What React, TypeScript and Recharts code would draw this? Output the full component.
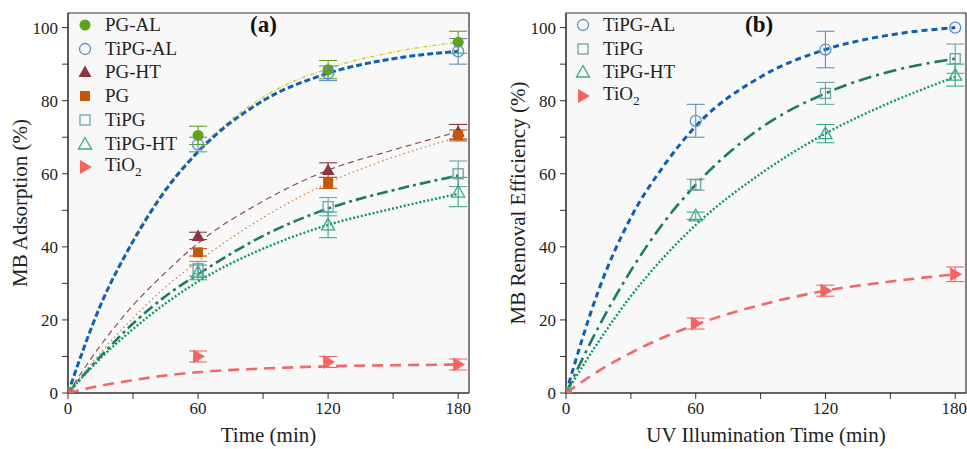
import React from "react";
import { ComposedChart, Line, Scatter, ErrorBar, XAxis, YAxis, ReferenceArea, Label } from "recharts";

const FONT = '"Liberation Serif", "Times New Roman", serif';

const times = [0, 60, 120, 180];
const fitTimes = [0, 15, 30, 45, 60, 90, 120, 150, 180];
const xTicks = [0, 30, 60, 90, 120, 150, 180];
const yTicks = [0, 10, 20, 30, 40, 50, 60, 70, 80, 90, 100];

// panel (a): adsorption, measured points / error / fitted curve
const aPgAl = [0, 70.5, 88.5, 96];
const aPgAlErr = [0, 2.5, 2.5, 3];
const aPgAlFit = [0, 24, 42, 56, 66.5, 81, 88.8, 93.3, 96];
const aTiPgAl = [0, 68, 87.5, 93.5];
const aTiPgAlErr = [0, 2, 2, 3.5];
const aTiPgAlFit = [0, 24, 41.5, 55.5, 66, 80, 87.5, 91.5, 93.5];
const aPgHt = [0, 43, 61, 71.5];
const aPgHtErr = [0, 1, 2, 2];
const aPgHtFit = [0, 13, 24, 33, 41, 52.5, 61, 66.5, 71.5];
const aPg = [0, 38.5, 57.5, 70.5];
const aPgErr = [0, 1, 1.5, 1.5];
const aPgFit = [0, 11, 20.5, 29, 36, 48, 57.5, 64.5, 70];
const aTiPg = [0, 34, 51, 60];
const aTiPgErr = [0, 2, 2.5, 3.5];
const aTiPgFit = [0, 10, 19, 26.5, 32.5, 43, 50.5, 55.5, 59.5];
const aTiPgHt = [0, 33, 46, 55];
const aTiPgHtErr = [0, 2, 3.5, 4];
const aTiPgHtFit = [0, 9.5, 17.5, 24.5, 30.5, 39.5, 46, 50.5, 54.5];
const aTiO2 = [0, 10, 8.5, 7.8];
const aTiO2Err = [0, 1.5, 1.5, 1.5];
const aTiO2Fit = [0, 2, 3.5, 4.8, 5.7, 6.7, 7.3, 7.6, 7.8];

// panel (b): photocatalytic removal
const bTiPgAl = [0, 74.5, 94, 100];
const bTiPgAlErr = [0, 4.5, 5, 0];
const bTiPgAlFit = [0, 28, 48, 62, 73, 86.5, 94, 98, 100];
const bTiPg = [0, 57, 82, 91.5];
const bTiPgErr = [0, 1.5, 3, 4];
const bTiPgFit = [0, 18, 33.5, 46.5, 57, 72.5, 82, 88, 91.5];
const bTiPgHt = [0, 48.5, 71, 87];
const bTiPgHtErr = [0, 1, 2.5, 3];
const bTiPgHtFit = [0, 14, 26.5, 37, 46, 60, 71, 79.5, 86.5];
const bTiO2 = [0, 19, 28, 32.5];
const bTiO2Err = [0, 1.5, 1.5, 2];
const bTiO2Fit = [0, 6, 11, 15.2, 18.7, 24.1, 28, 30.5, 32.5];

const pts = (v: number[], e: number[]) => times.map((t, i) => ({ t, v: v[i], e: e[i] }));
const fit = (v: number[]) => fitTimes.map((t, i) => ({ t, v: v[i] }));

type Kind = "dot" | "circle" | "tri" | "triOpen" | "square" | "squareOpen" | "right";

function drawMarker(kind: Kind, color: string, cx: number, cy: number) {
  const sw = 1.3;
  switch (kind) {
    case "dot":
      return <circle cx={cx} cy={cy} r={5.5} fill={color} />;
    case "circle":
      return <circle cx={cx} cy={cy} r={5.5} fill="none" stroke={color} strokeWidth={sw} />;
    case "tri":
      return <polygon points={`${cx},${cy - 6.5} ${cx - 6.5},${cy + 5} ${cx + 6.5},${cy + 5}`} fill={color} />;
    case "triOpen":
      return <polygon points={`${cx},${cy - 6.5} ${cx - 6.5},${cy + 5} ${cx + 6.5},${cy + 5}`} fill="none" stroke={color} strokeWidth={sw} />;
    case "square":
      return <rect x={cx - 5} y={cy - 5} width={10} height={10} fill={color} />;
    case "squareOpen":
      return <rect x={cx - 5} y={cy - 5} width={10} height={10} fill="none" stroke={color} strokeWidth={sw} />;
    case "right":
      return <polygon points={`${cx + 7},${cy} ${cx - 5},${cy - 7} ${cx - 5},${cy + 7}`} fill={color} />;
  }
}

const shape = (kind: Kind, color: string) => (p: any) => {
  if (p.cx == null || p.cy == null) return <g />;
  return <g>{drawMarker(kind, color, p.cx, p.cy)}</g>;
};

interface Series {
  name: React.ReactNode;
  kind: Kind;
  marker: string;
  line: string;
  dash: string;
  width: number;
  points: { t: number; v: number; e: number }[];
  curve: { t: number; v: number }[];
}

const sub2 = <>TiO<sub style={{ fontSize: "0.7em" }}>2</sub></>;

const seriesA: Series[] = [
  { name: "PG-AL", kind: "dot", marker: "#5fa317", line: "#c3cc2c", dash: "4 2 1 2", width: 1.3, points: pts(aPgAl, aPgAlErr), curve: fit(aPgAlFit) },
  { name: "TiPG-AL", kind: "circle", marker: "#5b8fc4", line: "#115fb0", dash: "6 3", width: 3, points: pts(aTiPgAl, aTiPgAlErr), curve: fit(aTiPgAlFit) },
  { name: "PG-HT", kind: "tri", marker: "#8c3541", line: "#8f4a5a", dash: "6 4", width: 1.2, points: pts(aPgHt, aPgHtErr), curve: fit(aPgHtFit) },
  { name: "PG", kind: "square", marker: "#c1580c", line: "#cf8247", dash: "1.5 3", width: 1.3, points: pts(aPg, aPgErr), curve: fit(aPgFit) },
  { name: "TiPG", kind: "squareOpen", marker: "#6ea3a3", line: "#1b7b68", dash: "11 4 3 4", width: 2.6, points: pts(aTiPg, aTiPgErr), curve: fit(aTiPgFit) },
  { name: "TiPG-HT", kind: "triOpen", marker: "#3aa883", line: "#0e9b55", dash: "2 2", width: 2.4, points: pts(aTiPgHt, aTiPgHtErr), curve: fit(aTiPgHtFit) },
  { name: sub2, kind: "right", marker: "#f56464", line: "#f26868", dash: "11 7", width: 2.6, points: pts(aTiO2, aTiO2Err), curve: fit(aTiO2Fit) },
];

const seriesB: Series[] = [
  { name: "TiPG-AL", kind: "circle", marker: "#5b8fc4", line: "#115fb0", dash: "6 4", width: 3, points: pts(bTiPgAl, bTiPgAlErr), curve: fit(bTiPgAlFit) },
  { name: "TiPG", kind: "squareOpen", marker: "#6ea3a3", line: "#1b7b68", dash: "13 5 3 5", width: 2.6, points: pts(bTiPg, bTiPgErr), curve: fit(bTiPgFit) },
  { name: "TiPG-HT", kind: "triOpen", marker: "#3aa883", line: "#0e9b55", dash: "2 2", width: 2.4, points: pts(bTiPgHt, bTiPgHtErr), curve: fit(bTiPgHtFit) },
  { name: sub2, kind: "right", marker: "#f56464", line: "#f26868", dash: "11 7", width: 2.6, points: pts(bTiO2, bTiO2Err), curve: fit(bTiO2Fit) },
];

const tickStyle = { fontFamily: FONT, fontSize: 17, fill: "#222", stroke: "none" };
const titleStyle = { fontFamily: FONT, fontSize: 21, fill: "#222", stroke: "none", textAnchor: "middle" as const };

function Panel(props: { series: Series[]; left: number; width: number; yWidth: number; right: number; xTitle: string; yTitle: string; yTitleX: number }) {
  const { series, left, width, yWidth, right, xTitle, yTitle, yTitleX } = props;
  return (
    <div style={{ position: "absolute", left, top: 0 }}>
      <ComposedChart width={width} height={449} margin={{ top: 13, right, bottom: 0, left: 0 }}>
        <XAxis
          dataKey="t"
          type="number"
          domain={[0, 185]}
          ticks={xTicks}
          tickFormatter={(v: number) => (v % 60 === 0 ? String(v) : "")}
          tick={tickStyle}
          tickSize={6}
          tickMargin={3}
          stroke="#333"
          height={56}
          allowDataOverflow
        >
          <Label value={xTitle} position="insideBottom" offset={7} style={titleStyle} />
        </XAxis>
        <YAxis
          type="number"
          domain={[0, 104]}
          ticks={yTicks}
          tickFormatter={(v: number) => (v % 20 === 0 ? String(v) : "")}
          tick={tickStyle}
          tickSize={6}
          tickMargin={4}
          stroke="#333"
          width={yWidth}
          allowDataOverflow
        >
          <Label value={yTitle} angle={-90} position="insideLeft" offset={yTitleX} style={titleStyle} />
        </YAxis>
        <ReferenceArea x1={0} x2={185} y1={0} y2={104} fill="#f8f8f8" fillOpacity={1} stroke="#333" strokeWidth={1.2} ifOverflow="visible" />
        {series.map((s, i) => (
          <Line
            key={`l${i}`}
            data={s.curve}
            dataKey="v"
            type="monotone"
            stroke={s.line}
            strokeWidth={s.width}
            strokeDasharray={s.dash}
            dot={false}
            activeDot={false}
            isAnimationActive={false}
          />
        ))}
        {series.map((s, i) => (
          <Scatter key={`s${i}`} data={s.points} dataKey="v" shape={shape(s.kind, s.marker)} isAnimationActive={false}>
            <ErrorBar dataKey="e" direction="y" width={9} stroke={s.marker} strokeWidth={1.1} />
          </Scatter>
        ))}
      </ComposedChart>
    </div>
  );
}

function LegendBox(props: { series: Series[]; left: number; top: number }) {
  return (
    <div style={{ position: "absolute", left: props.left, top: props.top, fontFamily: FONT, fontSize: 19, color: "#222" }}>
      {props.series.map((s, i) => (
        <div key={i} style={{ position: "absolute", top: i * 23.7, left: 0, height: 24, display: "flex", alignItems: "center", whiteSpace: "nowrap" }}>
          <svg width={20} height={20}>{drawMarker(s.kind, s.marker, 10, 10)}</svg>
          <span style={{ marginLeft: 10 }}>{s.name}</span>
        </div>
      ))}
    </div>
  );
}

export default function App() {
  return (
    <div style={{ position: "absolute", left: 0, top: 0, width: 967, height: 449, background: "#fff", overflow: "hidden" }}>
      <Panel series={seriesA} left={0} width={480} yWidth={68} right={11} xTitle="Time (min)" yTitle="MB Adsorption (%)" yTitleX={20} />
      <Panel series={seriesB} left={484} width={483} yWidth={82} right={1} xTitle="UV Illumination Time (min)" yTitle="MB Removal Efficiency (%)" yTitleX={34} />
      <LegendBox series={seriesA} left={75} top={13} />
      <LegendBox series={seriesB} left={573} top={13} />
      <div style={{ position: "absolute", left: 250, top: 12, fontFamily: FONT, fontSize: 23, fontWeight: "bold", color: "#111" }}>(a)</div>
      <div style={{ position: "absolute", left: 745, top: 12, fontFamily: FONT, fontSize: 23, fontWeight: "bold", color: "#111" }}>(b)</div>
    </div>
  );
}
